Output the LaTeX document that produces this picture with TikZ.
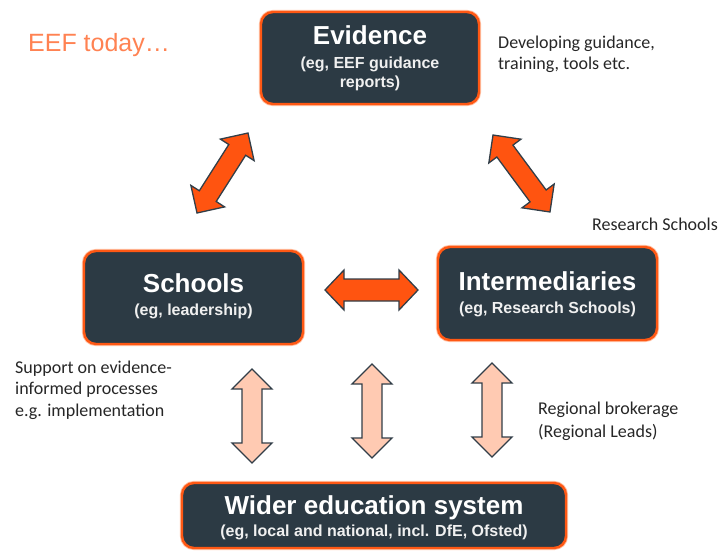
\documentclass[tikz,border=0pt]{standalone}
\usepackage{fontspec}
\setmainfont{Liberation Sans}
\newfontfamily\notefont{Carlito}
\usetikzlibrary{calc}

\definecolor{boxfill}{RGB}{44,58,68}
\definecolor{boxedge}{RGB}{255,88,20}
\definecolor{boxhalo}{RGB}{255,190,160}
\definecolor{arrowhot}{RGB}{255,84,16}
\definecolor{arrowsoft}{RGB}{255,202,178}
\definecolor{arrowline}{RGB}{50,62,72}
\definecolor{titlecol}{RGB}{255,130,82}

% double-headed block arrow: #1 style, #2 from, #3 to,
% #4 head length, #5 head half-width, #6 shaft half-width
\newcommand\blockarrow[6]{%
  \path let \p1=($(#3)-(#2)$) in \pgfextra{%
    \pgfmathsetmacro\baang{atan2(\y1,\x1)}%
    \pgfmathsetmacro\balen{veclen(\x1,\y1)}%
    \global\let\baang\baang
    \global\let\balen\balen};
  \pgfmathsetmacro\bainner{\balen-#4}%
  \begin{scope}[shift={(#2)}, rotate=\baang]
    \draw[#1] (0,0) -- (#4,#5) -- (#4,#6) -- (\bainner,#6) -- (\bainner,#5)
      -- (\balen,0) -- (\bainner,-#5) -- (\bainner,-#6) -- (#4,-#6)
      -- (#4,-#5) -- cycle;
  \end{scope}}

\begin{document}
\begin{tikzpicture}[x=1pt, y=-1pt,
  panel/.style={draw=boxedge, line width=2.4pt, fill=boxfill,
    rounded corners=12pt, inner sep=0pt,
    preaction={draw=boxhalo, line width=4.2pt}},
  headline/.style={anchor=base, text=white, font=\bfseries\fontsize{26}{28}\selectfont},
  subline/.style={anchor=base, text=white!94!black, font=\bfseries\fontsize{16}{19}\selectfont},
  note/.style={anchor=base west, inner sep=0pt, text=black!85,
    font=\notefont\fontsize{18}{21}\selectfont},
  hotarrow/.style={fill=arrowhot, draw=arrowline, line width=1.3pt, line join=miter},
  softarrow/.style={fill=arrowsoft, draw=arrowline, line width=1.3pt, line join=miter}]

\useasboundingbox (0,0) rectangle (721,550);

% heading
\node[anchor=base west, inner sep=0pt, text=titlecol,
  font=\fontsize{25}{28}\selectfont] (heading) at (28,51) {EEF today\ldots};

% boxes
\node[panel, minimum width=218pt, minimum height=92pt] (evid) at (370,58) {};
\node[panel, minimum width=219pt, minimum height=93pt] (schools) at (193.5,297.5) {};
\node[panel, minimum width=219pt, minimum height=93pt] (inter) at (547.5,293.5) {};
\node[panel, minimum width=384pt, minimum height=65pt] (wider) at (374,515.5) {};

% box texts
\node[headline] (evidT) at (370,44) {Evidence};
\node[subline] (evidS1) at (370,68) {(eg, EEF guidance};
\node[subline] (evidS2) at (370,87) {reports)};

\node[headline] (schoolsT) at (193.5,292) {Schools};
\node[subline] (schoolsS) at (193.5,315) {(eg, leadership)};

\node[headline] (interT) at (547.5,290) {Intermediaries};
\node[subline] (interS) at (547.5,313) {(eg, Research Schools)};

\node[headline] (widerT) at (374,514) {Wider education system};
\node[subline] (widerS) at (374,536) {(eg, local and national, incl. DfE, Ofsted)};

% side notes
\node[note] (dev1) at (498,48) {Developing guidance,};
\node[note] (dev2) at (498,69) {training, tools etc.};
\node[note] (rs) at (592,230) {Research Schools};
\node[note] (sup1) at (15,373) {Support on evidence-};
\node[note] (sup2) at (15,394) {informed processes};
\node[note] (sup3) at (15,416) {e.g. implementation};
\node[note] (reg1) at (538,414) {Regional brokerage};
\node[note] (reg2) at (538,437) {(Regional Leads)};

% arrow end points
\coordinate (se1) at (197,213);  \coordinate (se2) at (248,133);
\coordinate (ie1) at (493,135);  \coordinate (ie2) at (550,212);
\coordinate (si1) at (325,290);  \coordinate (si2) at (418,290);
\coordinate (sw1) at (252,369);  \coordinate (sw2) at (252,463);
\coordinate (mw1) at (372,364);  \coordinate (mw2) at (372,458);
\coordinate (iw1) at (492,363);  \coordinate (iw2) at (492,457);

% links between evidence, schools and intermediaries
\blockarrow{hotarrow}{se1}{se2}{20}{20}{10}
\blockarrow{hotarrow}{ie1}{ie2}{20}{20}{10}
\blockarrow{hotarrow}{si1}{si2}{19}{20}{11}

% links down to the wider system
\blockarrow{softarrow}{sw1}{sw2}{20}{20}{10}
\blockarrow{softarrow}{mw1}{mw2}{20}{20}{10}
\blockarrow{softarrow}{iw1}{iw2}{20}{20}{10}

\end{tikzpicture}
\end{document}
